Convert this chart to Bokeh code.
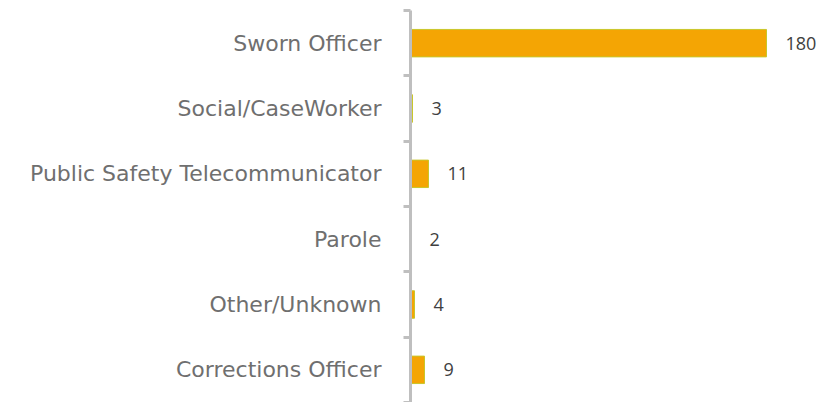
from bokeh.plotting import figure
from bokeh.models import ColumnDataSource, Range1d, FixedTicker, LabelSet
from bokeh.core.properties import value
from bokeh.embed import file_html
from bokeh.resources import INLINE

# Data (bottom to top)
categories = ["Corrections Officer", "Other/Unknown", "Parole",
              "Public Safety Telecommunicator", "Social/CaseWorker", "Sworn Officer"]
counts = [9, 4, 2, 11, 3, 180]
axis_start = 2

positions = list(range(len(categories)))
source = ColumnDataSource(dict(
    y=positions,
    count=counts,
    label=[str(c) for c in counts],
    left=[axis_start] * len(counts),
))

p = figure(width=825, height=402, output_backend="svg", toolbar_location=None,
           x_range=Range1d(axis_start, 209.5),
           y_range=Range1d(-0.5, len(categories) - 0.5),
           x_axis_location=None,
           min_border_left=410, min_border_right=0,
           min_border_top=10, min_border_bottom=0)

p.outline_line_color = None
p.xgrid.visible = False
p.ygrid.visible = False
p.background_fill_color = "white"
p.border_fill_color = "white"

p.hbar(y="y", left="left", right="count", height=0.42, source=source,
       fill_color="#F4A504", line_color="#C9C62A", line_width=1)

labels = LabelSet(x="count", y="y", text="label", source=source,
                  x_offset=19, text_align="left", text_baseline="middle",
                  text_font=value("Open Sans"), text_font_size=value("18px"),
                  text_color=value("#404040"))
p.add_layout(labels)

yax = p.yaxis[0]
yax.ticker = FixedTicker(ticks=positions,
                         minor_ticks=[i - 0.5 for i in range(len(categories) + 1)])
yax.major_label_overrides = {i: c for i, c in zip(positions, categories)}
yax.major_tick_out = 0
yax.major_tick_in = 0
yax.minor_tick_out = 7
yax.minor_tick_in = 0
yax.minor_tick_line_color = "#BFBFBF"
yax.minor_tick_line_width = 3
yax.axis_line_color = "#BFBFBF"
yax.axis_line_width = 3
yax.major_label_standoff = 22
yax.major_label_text_font = "DejaVu Sans"
yax.major_label_text_font_size = "22px"
yax.major_label_text_color = "#6F6F6F"
yax.major_label_text_font_style = "normal"

open("out.html", "w").write(file_html(p, INLINE))
